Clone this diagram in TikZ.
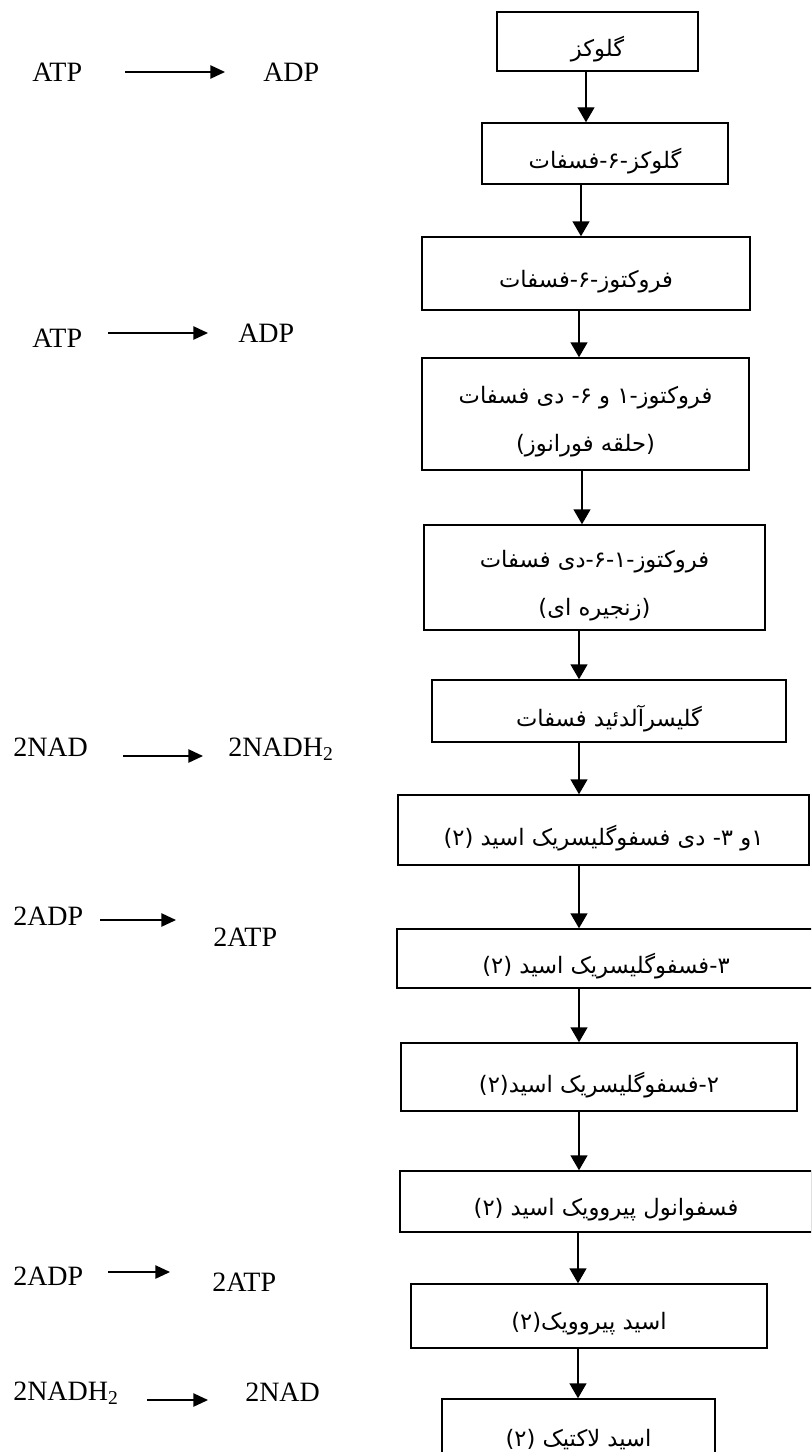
\documentclass[tikz,border=0pt]{standalone}
\usepackage{fontspec}
\setmainfont{Liberation Serif}
\newfontfamily\fa[Script=Arabic]{DejaVu Sans}
\TeXXeTstate=1
\usetikzlibrary{arrows.meta}
\newcommand\rtl[1]{\beginR #1\endR}
\begin{document}
\begin{tikzpicture}[x=0.75pt,y=-0.75pt,
  stage/.style n args={2}{draw, line width=1.1pt, minimum width=#1*0.75pt,
    minimum height=#2*0.75pt, inner sep=0pt},
  ftxt/.style={inner sep=0pt, align=center, yshift=-6pt,
    font=\fa\fontsize{17}{36}\selectfont},
  arr/.style={line width=1.1pt, -{Triangle[width=12.75pt,length=11.25pt]}},
  larr/.style={line width=1.1pt, -{Triangle[width=10pt,length=11pt]}},
  lab/.style={font=\fontsize{21}{25}\selectfont, inner sep=0pt, anchor=base west}]
\clip (0,0) rectangle (811,1452);
\useasboundingbox (0,0) rectangle (811,1452);
% flow boxes
\node[stage={201}{59}]  (b1)  at (597.5,41.5) {};
\node[stage={246}{61}]  (b2)  at (605,153.5) {};
\node[stage={328}{73}]  (b3)  at (586,273.5) {};
\node[stage={327}{112}] (b4)  at (585.5,414) {};
\node[stage={341}{105}] (b5)  at (594.5,577.5) {};
\node[stage={354}{62}]  (b6)  at (609,711) {};
\node[stage={411}{70}]  (b7)  at (603.5,830) {};
\node[stage={418}{59}]  (b8)  at (606,958.5) {};
\node[stage={396}{68}]  (b9)  at (599,1077) {};
\node[stage={412}{61}]  (b10) at (606,1201.5) {};
\node[stage={356}{64}]  (b11) at (589,1316) {};
\node[stage={273}{66}]  (b12) at (578.5,1432) {};
% box texts
\node[ftxt] (t1)  at (b1.center)  {\rtl{گلوکز}};
\node[ftxt] (t2)  at (b2.center)  {\rtl{گلوکز-۶-فسفات}};
\node[ftxt] (t3)  at (b3.center)  {\rtl{فروکتوز-۶-فسفات}};
\node[ftxt] (t4)  at (b4.center)  {\rtl{فروکتوز-۱ و ۶- دی فسفات}\\\rtl{(حلقه فورانوز)}};
\node[ftxt] (t5)  at (b5.center)  {\rtl{فروکتوز-۱-۶-دی فسفات}\\\rtl{(زنجیره ای)}};
\node[ftxt] (t6)  at (b6.center)  {\rtl{گلیسرآلدئید فسفات}};
\node[ftxt] (t7)  at (b7.center)  {\rtl{۱و ۳- دی فسفوگلیسریک اسید (۲)}};
\node[ftxt] (t8)  at (b8.center)  {\rtl{۳-فسفوگلیسریک اسید (۲)}};
\node[ftxt] (t9)  at (b9.center)  {\rtl{۲-فسفوگلیسریک اسید(۲)}};
\node[ftxt] (t10) at (b10.center) {\rtl{فسفوانول پیروویک اسید (۲)}};
\node[ftxt] (t11) at (b11.center) {\rtl{اسید پیروویک(۲)}};
\node[ftxt] (t12) at (b12.center) {\rtl{اسید لاکتیک (۲)}};
% flow arrows
\draw[arr] (b1.south -| 586,0) -- (b2.north -| 586,0);
\draw[arr] (b2.south -| 581,0) -- (b3.north -| 581,0);
\draw[arr] (b3.south -| 579,0) -- (b4.north -| 579,0);
\draw[arr] (b4.south -| 582,0) -- (b5.north -| 582,0);
\draw[arr] (b5.south -| 579,0) -- (b6.north -| 579,0);
\draw[arr] (b6.south -| 579,0) -- (b7.north -| 579,0);
\draw[arr] (b7.south -| 579,0) -- (b8.north -| 579,0);
\draw[arr] (b8.south -| 579,0) -- (b9.north -| 579,0);
\draw[arr] (b9.south -| 579,0) -- (b10.north -| 579,0);
\draw[arr] (b10.south -| 578,0) -- (b11.north -| 578,0);
\draw[arr] (b11.south -| 578,0) -- (b12.north -| 578,0);
% side reactions
\node[lab] (l1a) at (32,82) {ATP};
\node[lab] (l1b) at (263,82) {ADP};
\coordinate (c1a) at (125,72); \coordinate (c1b) at (225,72);
\draw[larr] (c1a) -- (c1b);
\node[lab] (l2a) at (32,347) {ATP};
\node[lab] (l2b) at (238,342) {ADP};
\coordinate (c2a) at (108,333); \coordinate (c2b) at (208,333);
\draw[larr] (c2a) -- (c2b);
\node[lab] (l3a) at (13,756) {2NAD};
\node[lab] (l3b) at (228,756) {2NADH\textsubscript{2}};
\coordinate (c3a) at (123,756); \coordinate (c3b) at (203,756);
\draw[larr] (c3a) -- (c3b);
\node[lab] (l4a) at (13,925) {2ADP};
\node[lab] (l4b) at (213,946) {2ATP};
\coordinate (c4a) at (100,920); \coordinate (c4b) at (176,920);
\draw[larr] (c4a) -- (c4b);
\node[lab] (l5a) at (13,1285) {2ADP};
\node[lab] (l5b) at (212,1291) {2ATP};
\coordinate (c5a) at (108,1272); \coordinate (c5b) at (170,1272);
\draw[larr] (c5a) -- (c5b);
\node[lab] (l6a) at (13,1400) {2NADH\textsubscript{2}};
\node[lab] (l6b) at (245,1401) {2NAD};
\coordinate (c6a) at (147,1400); \coordinate (c6b) at (208,1400);
\draw[larr] (c6a) -- (c6b);
\end{tikzpicture}
\end{document}
